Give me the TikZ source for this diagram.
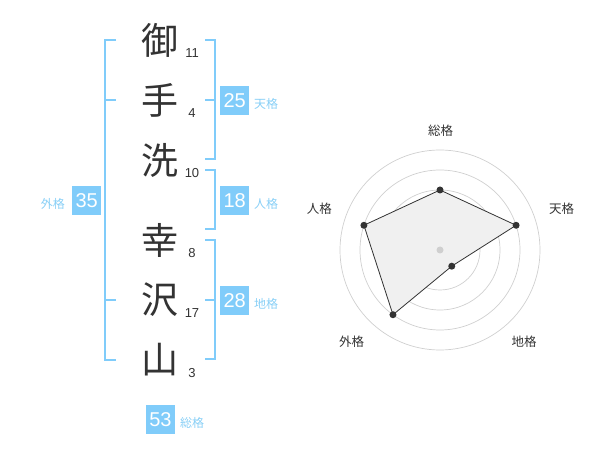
\documentclass[tikz,border=0pt]{standalone}
\usepackage{fontspec}
\setmainfont{Liberation Sans}
\newfontfamily\jp{Noto Sans CJK JP}
\definecolor{kblue}{HTML}{80CCFA}
\definecolor{klabel}{HTML}{88CFF6}
\definecolor{ink}{HTML}{333333}
\definecolor{ring}{HTML}{CFCFCF}
\definecolor{area}{HTML}{F0F0F0}
\tikzset{
  kanji/.style={font=\jp\fontsize{37}{37}\selectfont, text=ink, inner sep=0pt},
  strokes/.style={font=\fontsize{13}{13}\selectfont, text=ink, inner sep=0pt},
  valbox/.style={fill=kblue, text=white, minimum width=29pt, minimum height=29pt, inner sep=0pt, font=\fontsize{20}{20}\selectfont},
  vallabel/.style={font=\jp\fontsize{12}{12}\selectfont, text=klabel, inner sep=0pt},
  brk/.style={draw=kblue, line width=2pt},
  radlabel/.style={font=\jp\fontsize{12.5}{12.5}\selectfont, text=ink, inner sep=0pt},
  dot/.style={circle, fill=ink, inner sep=0pt, minimum size=7pt},
}
\begin{document}
\begin{tikzpicture}[x=1pt,y=-1pt]
\useasboundingbox (0,0) rectangle (600,470);
% kanji
\node[kanji] (k1) at (160,40) {御};
\node[kanji] (k2) at (160,100) {手};
\node[kanji] (k3) at (160,160) {洗};
\node[kanji] (k4) at (160,240) {幸};
\node[kanji] (k5) at (160,300) {沢};
\node[kanji] (k6) at (160,360) {山};
% stroke counts
\node[strokes] (s1) at (192,53) {11};
\node[strokes] (s2) at (192,113) {4};
\node[strokes] (s3) at (192,173) {10};
\node[strokes] (s4) at (192,253) {8};
\node[strokes] (s5) at (192,313) {17};
\node[strokes] (s6) at (192,373) {3};
% brackets
\draw[brk] (116,40) -- (105,40) -- (105,360) -- (116,360);
\draw[brk] (105,100) -- (116,100);
\draw[brk] (105,300) -- (116,300);
\draw[brk] (205,40) -- (215,40) -- (215,159.5) -- (205,159.5);
\draw[brk] (205,100) -- (215,100);
\draw[brk] (205,170) -- (215,170) -- (215,229.5) -- (205,229.5);
\draw[brk] (205,240) -- (215,240) -- (215,359.5) -- (205,359.5);
\draw[brk] (205,300) -- (215,300);
% value boxes
\node[valbox] (b1) at (234.7,100.3) {25};
\node[vallabel, anchor=west] (l1) at (254,104) {天格};
\node[valbox] (b2) at (234.7,200.3) {18};
\node[vallabel, anchor=west] (l2) at (254,204) {人格};
\node[valbox] (b3) at (234.7,300.3) {28};
\node[vallabel, anchor=west] (l3) at (254,304) {地格};
\node[valbox] (b4) at (86.7,200.3) {35};
\node[vallabel, anchor=east] (l4) at (65,204) {外格};
\node[valbox] (b5) at (160.5,419.3) {53};
\node[vallabel, anchor=west] (l5) at (180,422.5) {総格};
% radar
\begin{scope}[shift={(440,250)}]
  \foreach \r in {20,40,60,80,100} \draw[ring, line width=0.7pt] (0,0) circle (\r);
  \coordinate (p1) at (-90:60);
  \coordinate (p2) at (-18:80);
  \coordinate (p3) at (54:20);
  \coordinate (p4) at (126:80);
  \coordinate (p5) at (198:80);
  \fill[area] (p1) -- (p2) -- (p3) -- (p4) -- (p5) -- cycle;
  \draw[ink, line width=0.8pt] (p1) -- (p2) -- (p3) -- (p4) -- (p5) -- cycle;
  \node[circle, fill=ring, inner sep=0pt, minimum size=7pt] (c0) at (0,0) {};
  \foreach \i in {1,...,5} \node[dot] (d\i) at (p\i) {};
  \node[radlabel] (r1) at (0.7,-119.3) {総格};
  \node[radlabel] (r2) at (121.7,-41.7) {天格};
  \node[radlabel] (r3) at (84,91.7) {地格};
  \node[radlabel] (r4) at (-88.3,91.7) {外格};
  \node[radlabel] (r5) at (-120.7,-41.7) {人格};
\end{scope}
\end{tikzpicture}
\end{document}
